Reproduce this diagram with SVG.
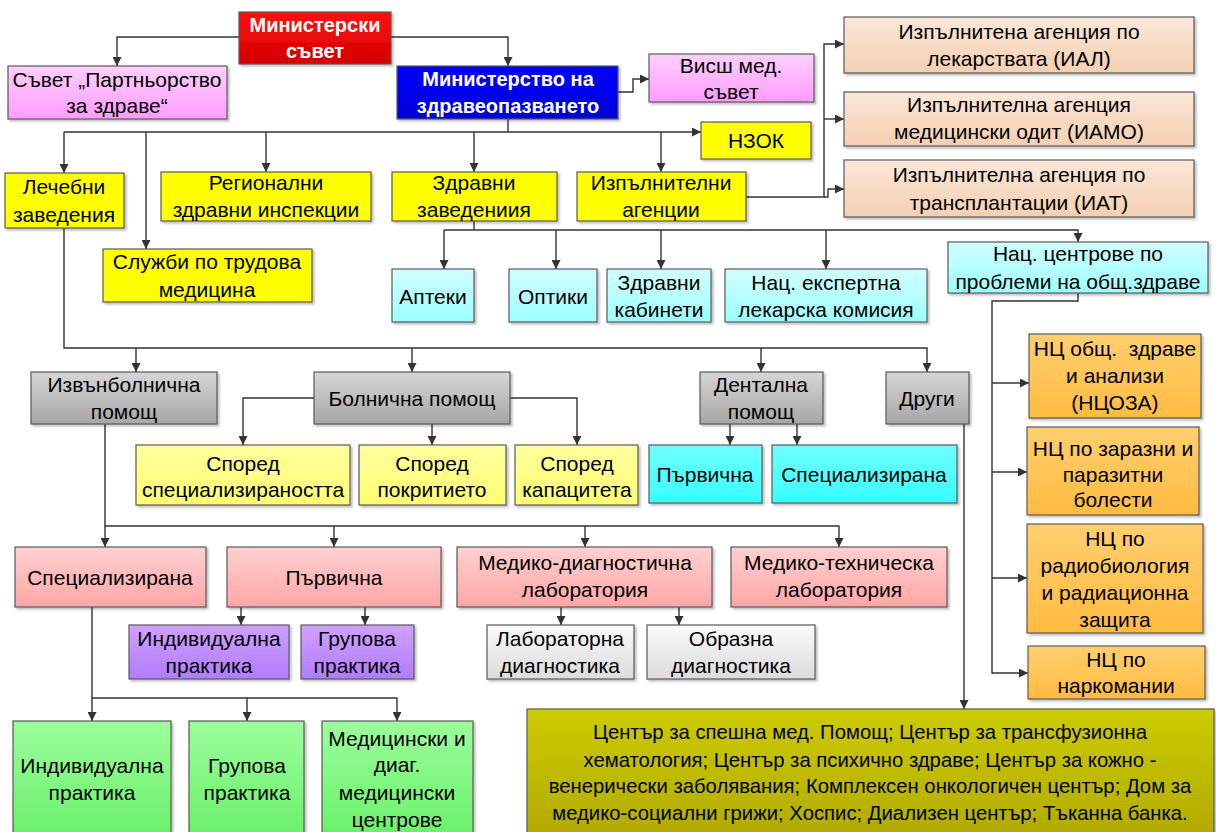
<svg xmlns="http://www.w3.org/2000/svg" width="1216" height="832" viewBox="0 0 1216 832">
<defs>
<linearGradient id="gRed" x1="0" y1="0" x2="0" y2="1"><stop offset="0" stop-color="#ff1010"/><stop offset="1" stop-color="#d40000"/></linearGradient>
<linearGradient id="gBlue" x1="0" y1="0" x2="0" y2="1"><stop offset="0" stop-color="#0000ff"/><stop offset="1" stop-color="#0000d8"/></linearGradient>
<linearGradient id="gPink" x1="0" y1="0" x2="0" y2="1"><stop offset="0" stop-color="#ffd0ff"/><stop offset="1" stop-color="#ff9cff"/></linearGradient>
<linearGradient id="gPeach" x1="0" y1="0" x2="0" y2="1"><stop offset="0" stop-color="#fbe7d9"/><stop offset="1" stop-color="#f5cfb2"/></linearGradient>
<linearGradient id="gCyan" x1="0" y1="0" x2="0" y2="1"><stop offset="0" stop-color="#d2ffff"/><stop offset="1" stop-color="#9cffff"/></linearGradient>
<linearGradient id="gOrange" x1="0" y1="0" x2="0" y2="1"><stop offset="0" stop-color="#ffcf70"/><stop offset="1" stop-color="#ffbb40"/></linearGradient>
<linearGradient id="gGray" x1="0" y1="0" x2="0" y2="1"><stop offset="0" stop-color="#d6d6d6"/><stop offset="1" stop-color="#a6a6a6"/></linearGradient>
<linearGradient id="gLYellow" x1="0" y1="0" x2="0" y2="1"><stop offset="0" stop-color="#ffffa0"/><stop offset="1" stop-color="#ffff70"/></linearGradient>
<linearGradient id="gBCyan" x1="0" y1="0" x2="0" y2="1"><stop offset="0" stop-color="#70ffff"/><stop offset="1" stop-color="#38ffff"/></linearGradient>
<linearGradient id="gPink2" x1="0" y1="0" x2="0" y2="1"><stop offset="0" stop-color="#ffd0d0"/><stop offset="1" stop-color="#ffa6a6"/></linearGradient>
<linearGradient id="gPurple" x1="0" y1="0" x2="0" y2="1"><stop offset="0" stop-color="#d0a0ff"/><stop offset="1" stop-color="#b07cff"/></linearGradient>
<linearGradient id="gLGray" x1="0" y1="0" x2="0" y2="1"><stop offset="0" stop-color="#fafafa"/><stop offset="1" stop-color="#dcdcdc"/></linearGradient>
<linearGradient id="gGreen" x1="0" y1="0" x2="0" y2="1"><stop offset="0" stop-color="#9cff9c"/><stop offset="1" stop-color="#66ee66"/></linearGradient>
<linearGradient id="gOlive" x1="0" y1="0" x2="0" y2="1"><stop offset="0" stop-color="#cccc00"/><stop offset="1" stop-color="#b0a800"/></linearGradient>
<filter id="sh" x="-10%" y="-10%" width="120%" height="130%"><feDropShadow dx="2" dy="2" stdDeviation="1.2" flood-color="#000" flood-opacity="0.25"/></filter>
<marker id="ar" viewBox="0 0 10 10" refX="10" refY="5" markerWidth="9" markerHeight="9" markerUnits="userSpaceOnUse" orient="auto"><path d="M0,0 L10,5 L0,10 z" fill="#333"/></marker>
</defs>
<style>
rect{stroke:#595959;stroke-width:1.2;filter:url(#sh)}
text{font-family:"Liberation Sans",Arial,sans-serif;font-size:21px;fill:#000;text-anchor:middle}
.b{font-weight:bold;fill:#fff;font-size:20px}
.s{font-size:20.3px}
.yel{fill:#ffff00}
.c path{fill:none;stroke:#333;stroke-width:1.4}
.c .a{marker-end:url(#ar)}
</style>
<rect x="0" y="0" width="1216" height="832" style="fill:#fff;stroke:none;filter:none"/>

<g id="connectors" class="c">
<path class="a" d="M239,37 H117 V66"/>
<path class="a" d="M391,37 H508 V66"/>
<path class="a" d="M618,92 H633 V79 H649"/>
<path d="M508,119 V132"/>
<path class="a" d="M64,132 H701"/>
<path class="a" d="M64,132 V173"/>
<path class="a" d="M146,132 V249"/>
<path class="a" d="M266,132 V172"/>
<path class="a" d="M474,132 V172"/>
<path class="a" d="M661,132 V172"/>
<path class="a" d="M746,197 H824 V44 H844"/>
<path class="a" d="M824,119 H844"/>
<path class="a" d="M824,197 H828 V189 H844"/>
<path d="M474,221 V230"/>
<path class="a" d="M444,230 H1078 V242"/>
<path class="a" d="M444,230 V269"/>
<path class="a" d="M556,230 V269"/>
<path class="a" d="M661,230 V269"/>
<path class="a" d="M826,230 V269"/>
<path class="a" d="M1078,293 V301 H992 V673 H1028"/>
<path class="a" d="M992,383 H1029"/>
<path class="a" d="M992,472 H1027"/>
<path class="a" d="M992,578 H1027"/>
<path class="a" d="M64,228 V348 H927 V372"/>
<path class="a" d="M136,348 V372"/>
<path class="a" d="M412,348 V372"/>
<path class="a" d="M761,348 V372"/>
<path class="a" d="M314,398 H243 V445"/>
<path class="a" d="M432,424 V445"/>
<path class="a" d="M510,398 H577 V445"/>
<path class="a" d="M730,424 V445"/>
<path class="a" d="M797,424 V445"/>
<path class="a" d="M964,424 V709"/>
<path class="a" d="M105,424 V526 H839 V547"/>
<path class="a" d="M105,526 V547"/>
<path class="a" d="M334,526 V547"/>
<path class="a" d="M585,526 V547"/>
<path class="a" d="M241,607 V625"/>
<path class="a" d="M365,607 V625"/>
<path class="a" d="M561,607 V625"/>
<path class="a" d="M679,607 V625"/>
<path class="a" d="M92,607 V698 H397 V721"/>
<path class="a" d="M92,698 V721"/>
<path class="a" d="M247,698 V721"/>
</g>

<g id="n_ms"><rect x="239" y="12" width="152" height="52" fill="url(#gRed)"/><text class="b" x="315" y="32">Министерски</text><text class="b" x="315" y="58">съвет</text></g>
<g id="n_spz"><rect x="8" y="66" width="219" height="53" fill="url(#gPink)"/><text x="117" y="87">Съвет „Партньорство</text><text x="117" y="113">за здраве“</text></g>
<g id="n_mz"><rect x="397" y="66" width="221" height="53" fill="url(#gBlue)"/><text class="b" x="508" y="86">Министерство на</text><text class="b" x="508" y="113">здравеопазването</text></g>
<g id="n_vms"><rect x="649" y="54" width="165" height="48" fill="url(#gPink)"/><text x="731" y="73">Висш мед.</text><text x="731" y="99">съвет</text></g>
<g id="n_nzok"><rect x="701" y="122" width="110" height="37" class="yel"/><text x="756" y="148">НЗОК</text></g>
<g id="n_ial"><rect x="844" y="17" width="350" height="56" fill="url(#gPeach)"/><text x="1019" y="39">Изпълнитена агенция по</text><text x="1019" y="66">лекарствата (ИАЛ)</text></g>
<g id="n_iamo"><rect x="844" y="92" width="350" height="54" fill="url(#gPeach)"/><text x="1019" y="112">Изпълнителна агенция</text><text x="1019" y="139">медицински одит (ИАМО)</text></g>
<g id="n_iat"><rect x="844" y="160" width="350" height="57" fill="url(#gPeach)"/><text x="1019" y="182">Изпълнителна агенция по</text><text x="1019" y="210">трансплантации (ИАТ)</text></g>
<g id="n_lz"><rect x="5" y="173" width="119" height="55" class="yel"/><text x="64" y="194">Лечебни</text><text x="64" y="222">заведения</text></g>
<g id="n_rzi"><rect x="161" y="172" width="210" height="49" class="yel"/><text x="266" y="190">Регионални</text><text x="266" y="217">здравни инспекции</text></g>
<g id="n_zz"><rect x="392" y="172" width="165" height="49" class="yel"/><text x="474" y="190">Здравни</text><text x="474" y="217">заведениия</text></g>
<g id="n_ia"><rect x="577" y="172" width="169" height="49" class="yel"/><text x="661" y="190">Изпълнителни</text><text x="661" y="217">агенции</text></g>
<g id="n_str"><rect x="103" y="249" width="209" height="53" class="yel"/><text x="207" y="269">Служби по трудова</text><text x="207" y="297">медицина</text></g>
<g id="n_apt"><rect x="392" y="269" width="82" height="53" fill="url(#gCyan)"/><text x="433" y="304">Аптеки</text></g>
<g id="n_opt"><rect x="509" y="269" width="88" height="53" fill="url(#gCyan)"/><text x="553" y="304">Оптики</text></g>
<g id="n_zk"><rect x="607" y="269" width="104" height="53" fill="url(#gCyan)"/><text x="659" y="290">Здравни</text><text x="659" y="317">кабинети</text></g>
<g id="n_nelk"><rect x="725" y="269" width="202" height="53" fill="url(#gCyan)"/><text x="826" y="290">Нац. експертна</text><text x="826" y="317">лекарска комисия</text></g>
<g id="n_nc"><rect x="948" y="242" width="260" height="51" fill="url(#gCyan)"/><text x="1078" y="261">Нац. центрове по</text><text x="1078" y="289">проблеми на общ.здраве</text></g>
<g id="n_ncoza"><rect x="1029" y="334" width="172" height="84" fill="url(#gOrange)"/><text x="1115" y="356" xml:space="preserve">НЦ общ.  здраве</text><text x="1115" y="383">и анализи</text><text x="1115" y="410">(НЦОЗА)</text></g>
<g id="n_nczpb"><rect x="1027" y="427" width="172" height="88" fill="url(#gOrange)"/><text x="1113" y="456">НЦ по заразни и</text><text x="1113" y="482">паразитни</text><text x="1113" y="507">болести</text></g>
<g id="n_ncrb"><rect x="1027" y="524" width="176" height="109" fill="url(#gOrange)"/><text x="1115" y="546">НЦ по</text><text x="1115" y="573">радиобиология</text><text x="1115" y="600">и радиационна</text><text x="1115" y="627">защита</text></g>
<g id="n_ncn"><rect x="1028" y="646" width="177" height="53" fill="url(#gOrange)"/><text x="1116" y="667">НЦ по</text><text x="1116" y="693">наркомании</text></g>
<g id="n_ibp"><rect x="31" y="372" width="186" height="52" fill="url(#gGray)"/><text x="124" y="392">Извънболнична</text><text x="124" y="419">помощ</text></g>
<g id="n_bp"><rect x="314" y="372" width="196" height="52" fill="url(#gGray)"/><text x="412" y="406">Болнична помощ</text></g>
<g id="n_dp"><rect x="700" y="372" width="123" height="52" fill="url(#gGray)"/><text x="761" y="392">Дентална</text><text x="761" y="419">помощ</text></g>
<g id="n_dr"><rect x="886" y="372" width="83" height="52" fill="url(#gGray)"/><text x="927" y="406">Други</text></g>
<g id="n_sspec"><rect x="136" y="445" width="214" height="60" fill="url(#gLYellow)"/><text x="243" y="471">Според</text><text x="243" y="497">специализираността</text></g>
<g id="n_spokr"><rect x="359" y="445" width="147" height="60" fill="url(#gLYellow)"/><text x="432" y="471">Според</text><text x="432" y="497">покритието</text></g>
<g id="n_skap"><rect x="515" y="445" width="123" height="60" fill="url(#gLYellow)"/><text x="577" y="471">Според</text><text x="577" y="497">капацитета</text></g>
<g id="n_dprv"><rect x="649" y="445" width="113" height="58" fill="url(#gBCyan)"/><text x="705" y="482">Първична</text></g>
<g id="n_dspec"><rect x="772" y="445" width="185" height="58" fill="url(#gBCyan)"/><text x="864" y="482">Специализирана</text></g>
<g id="n_spec"><rect x="15" y="547" width="191" height="60" fill="url(#gPink2)"/><text x="110" y="585">Специализирана</text></g>
<g id="n_prv"><rect x="227" y="547" width="214" height="60" fill="url(#gPink2)"/><text x="334" y="585">Първична</text></g>
<g id="n_mdl"><rect x="457" y="547" width="255" height="60" fill="url(#gPink2)"/><text x="585" y="570">Медико-диагностична</text><text x="585" y="597">лаборатория</text></g>
<g id="n_mtl"><rect x="731" y="547" width="216" height="60" fill="url(#gPink2)"/><text x="839" y="570">Медико-техническа</text><text x="839" y="597">лаборатория</text></g>
<g id="n_pip"><rect x="129" y="625" width="160" height="54" fill="url(#gPurple)"/><text x="209" y="646">Индивидуална</text><text x="209" y="673">практика</text></g>
<g id="n_pgp"><rect x="301" y="625" width="113" height="54" fill="url(#gPurple)"/><text x="357" y="646">Групова</text><text x="357" y="673">практика</text></g>
<g id="n_lab"><rect x="487" y="625" width="147" height="54" fill="url(#gLGray)"/><text x="560" y="646">Лабораторна</text><text x="560" y="673">диагностика</text></g>
<g id="n_obr"><rect x="647" y="625" width="168" height="54" fill="url(#gLGray)"/><text x="731" y="646">Образна</text><text x="731" y="673">диагностика</text></g>
<g id="n_gip"><rect x="13" y="721" width="158" height="125" fill="url(#gGreen)"/><text x="92" y="773">Индивидуална</text><text x="92" y="800">практика</text></g>
<g id="n_ggp"><rect x="189" y="721" width="115" height="125" fill="url(#gGreen)"/><text x="247" y="773">Групова</text><text x="247" y="800">практика</text></g>
<g id="n_gmc"><rect x="322" y="721" width="151" height="125" fill="url(#gGreen)"/><text x="397" y="746">Медицински и</text><text x="397" y="772">диаг.</text><text x="397" y="800">медицински</text><text x="397" y="827">центрове</text></g>
<g id="n_other"><rect x="527" y="709" width="687" height="135" fill="url(#gOlive)"/><text class="s" x="870" y="739">Център за спешна мед. Помощ; Център за трансфузионна</text><text class="s" x="870" y="767">хематология; Център за психично здраве; Център за кожно -</text><text class="s" x="870" y="793">венерически заболявания; Комплексен онкологичен център; Дом за</text><text class="s" x="870" y="820">медико-социални грижи; Хоспис; Диализен център; Тъканна банка.</text></g>
</svg>
